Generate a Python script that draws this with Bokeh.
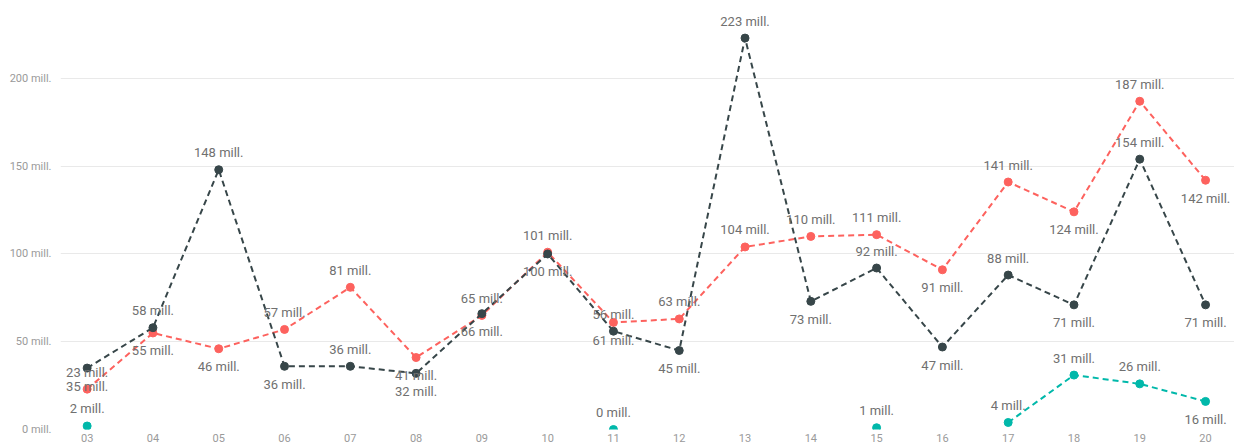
import math
from bokeh.plotting import figure
from bokeh.models import ColumnDataSource, Range1d, FixedTicker, PrintfTickFormatter
from bokeh.core.properties import value
from bokeh.embed import file_html
from bokeh.resources import INLINE

# ---- data ----
categories = ["03", "04", "05", "06", "07", "08", "09", "10", "11", "12",
              "13", "14", "15", "16", "17", "18", "19", "20"]
dark_values = [35, 58, 148, 36, 36, 32, 66, 100, 56, 45, 223, 73, 92, 47, 88, 71, 154, 71]
red_values = [23, 55, 46, 57, 81, 41, 65, 101, 61, 63, 104, 110, 111, 91, 141, 124, 187, 142]
nan = float("nan")
teal_values = [2, nan, nan, nan, nan, nan, nan, nan, 0, nan, nan, nan, 1, nan, 4, 31, 26, 16]
y_ticks = [0, 50, 100, 150, 200]

# label placement (a = above, b = below)
dark_place = ["b", "a", "a", "b", "a", "b", "b", "b", "a", "b", "a", "b", "a", "b", "a", "b", "a", "b"]
red_place = ["a", "b", "b", "a", "a", "b", "a", "a", "b", "a", "a", "a", "a", "b", "a", "b", "a", "b"]
teal_place = ["a"] * 17 + ["b"]

DARK = "#374649"
RED = "#FD625E"
TEAL = "#01B8AA"
LABEL = "#707070"
TICK = "#9a9a9a"
FONT = "Roboto"

xs = list(range(len(categories)))

p = figure(width=1234, height=447, output_backend="svg", toolbar_location=None,
           x_range=Range1d(-0.405, len(categories) - 1 + 0.44),
           y_range=Range1d(0, 244.4),
           min_border_left=60, min_border_right=0, min_border_top=0, min_border_bottom=18)
p.outline_line_color = None
p.background_fill_color = "white"
p.border_fill_color = "white"

p.xgrid.grid_line_color = None
p.ygrid.grid_line_color = "#e9e9e9"
p.ygrid.grid_line_width = 1

p.yaxis.ticker = FixedTicker(ticks=y_ticks)
p.yaxis.formatter = PrintfTickFormatter(format="%d mill.")
p.xaxis.ticker = FixedTicker(ticks=xs)
p.xaxis.major_label_overrides = {i: c for i, c in enumerate(categories)}
for ax in (p.xaxis, p.yaxis):
    ax.axis_line_color = None
    ax.major_tick_line_color = None
    ax.minor_tick_line_color = None
    ax.major_tick_out = 0
    ax.major_tick_in = 0
    ax.minor_tick_out = 0
    ax.minor_tick_in = 0
    ax.axis_label_standoff = 0
    ax.major_label_text_color = TICK
    ax.major_label_text_font = FONT
    ax.major_label_text_font_size = "11px"
p.yaxis.major_label_standoff = 9
p.xaxis.major_label_standoff = 4


def series(vals, color, place):
    src = ColumnDataSource(dict(
        x=xs, y=vals,
        lab=[("" if (isinstance(v, float) and math.isnan(v)) else f"{int(v)} mill.") for v in vals],
        off=[-17 if pl == "a" else 18 for pl in place],
    ))
    p.line("x", "y", source=src, line_color=color, line_width=2, line_dash="6 4")
    p.scatter("x", "y", source=src, size=8, fill_color=color, line_color=color)
    return src


srcs = [
    series(red_values, RED, red_place),
    series(dark_values, DARK, dark_place),
    series(teal_values, TEAL, teal_place),
]

for src in srcs:
    p.text("x", "y", text="lab", source=src, y_offset="off",
           text_align="center", text_baseline="middle",
           text_color=LABEL, text_font=value(FONT), text_font_size="13px")

open("out.html", "w").write(file_html(p, INLINE))
